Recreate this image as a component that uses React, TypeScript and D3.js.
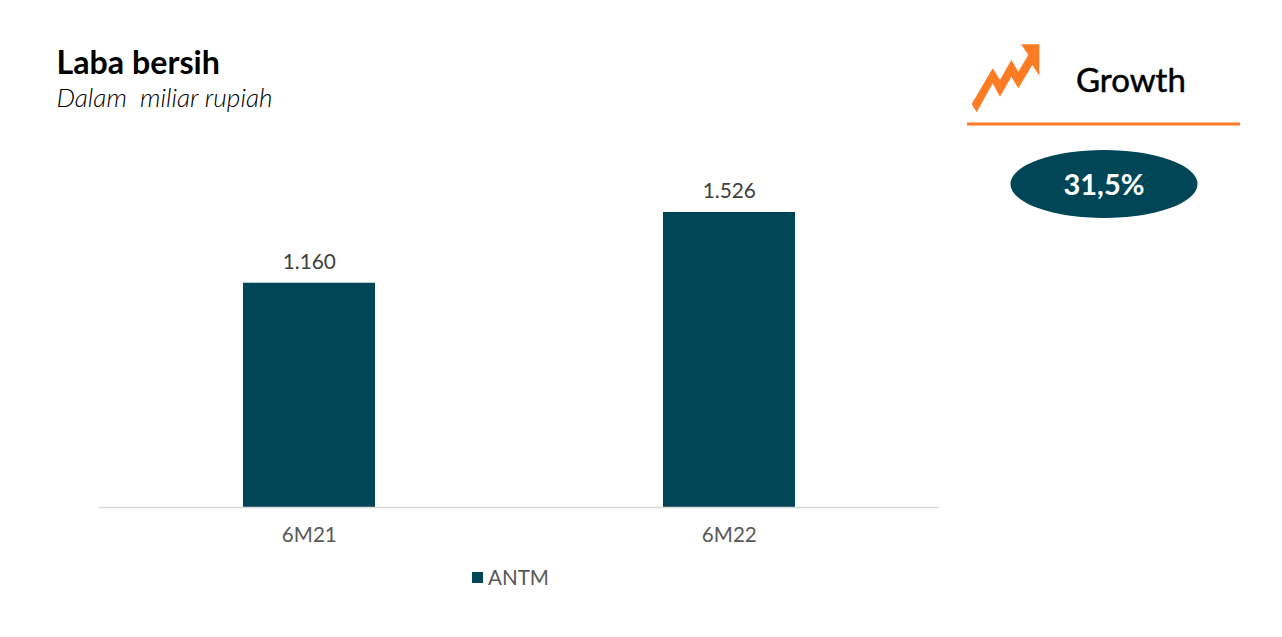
import React from "react";
import * as d3 from "d3";

const categories = ["6M21", "6M22"];
const values = [1160, 1526];
const valueLabels = ["1.160", "1.526"];
const seriesName = "ANTM";
const arrowPoints: [number, number][] = [
  [971.7, 104], [992.7, 68.3], [1000, 80], [1011.3, 60], [1018.3, 71.7], [1028.3, 55],
  [1021, 44.3], [1039.3, 44.3], [1039.3, 75.7], [1032.3, 65], [1018.3, 88.3], [1011.3, 76.7],
  [1000, 96.7], [992.7, 83.3], [976.7, 112.3],
];

const TEAL = "#014657";
const ORANGE = "#fd7b23";
const FONT = "Lato, sans-serif";

export default function App() {
  const x = d3.scaleBand<string>().domain(categories).range([99, 939]).paddingInner(0).paddingOuter(0);
  const y = d3.scaleLinear().domain([0, 1800]).range([507, 159]);
  const barW = 132;
  const arrow = d3.line()(arrowPoints) + "Z";
  return (
    <svg width={1282} height={637} style={{ position: "absolute", left: 0, top: 0, display: "block" }} fontFamily={FONT}>
      <rect width={1282} height={637} fill="#fff" />
      <text x={56.5} y={74} fontSize={32.2} fontWeight={700} fill="#000">Laba bersih</text>
      <text x={56.5} y={107} fontSize={26} fontStyle="italic" fontWeight={300} fill="#000" textLength={216} lengthAdjust="spacingAndGlyphs" xmlSpace="preserve" style={{ whiteSpace: "pre" }}>Dalam  miliar rupiah</text>

      {categories.map((c, i) => {
        const cx = x(c)! + x.bandwidth() / 2;
        return (
          <g key={c}>
            <rect x={cx - barW / 2} y={y(values[i])} width={barW} height={y(0) - y(values[i])} fill={TEAL} />
            <text x={cx + 0.3} y={y(values[i]) - 14} textAnchor="middle" fontSize={20.8} fill="#404040">{valueLabels[i]}</text>
            <text x={cx + 0.3} y={542} textAnchor="middle" fontSize={20.6} fill="#595959">{c}</text>
          </g>
        );
      })}
      <line x1={99} x2={939} y1={507.5} y2={507.5} stroke="#d9d9d9" strokeWidth={1.5} />

      <rect x={472} y={572} width={11} height={11} fill={TEAL} />
      <text x={488} y={585} fontSize={20.6} fill="#595959">{seriesName}</text>

      <path d={arrow} fill={ORANGE} />
      <text x={1076} y={92} fontSize={33} fontWeight={400} fill="#000" stroke="#000" strokeWidth={0.5}>Growth</text>
      <line x1={967} x2={1240} y1={124} y2={124} stroke={ORANGE} strokeWidth={3} />
      <ellipse cx={1104} cy={184} rx={93.5} ry={34} fill={TEAL} />
      <text x={1104} y={195} textAnchor="middle" fontSize={29} fontWeight={700} fill="#fff">31,5%</text>
    </svg>
  );
}
